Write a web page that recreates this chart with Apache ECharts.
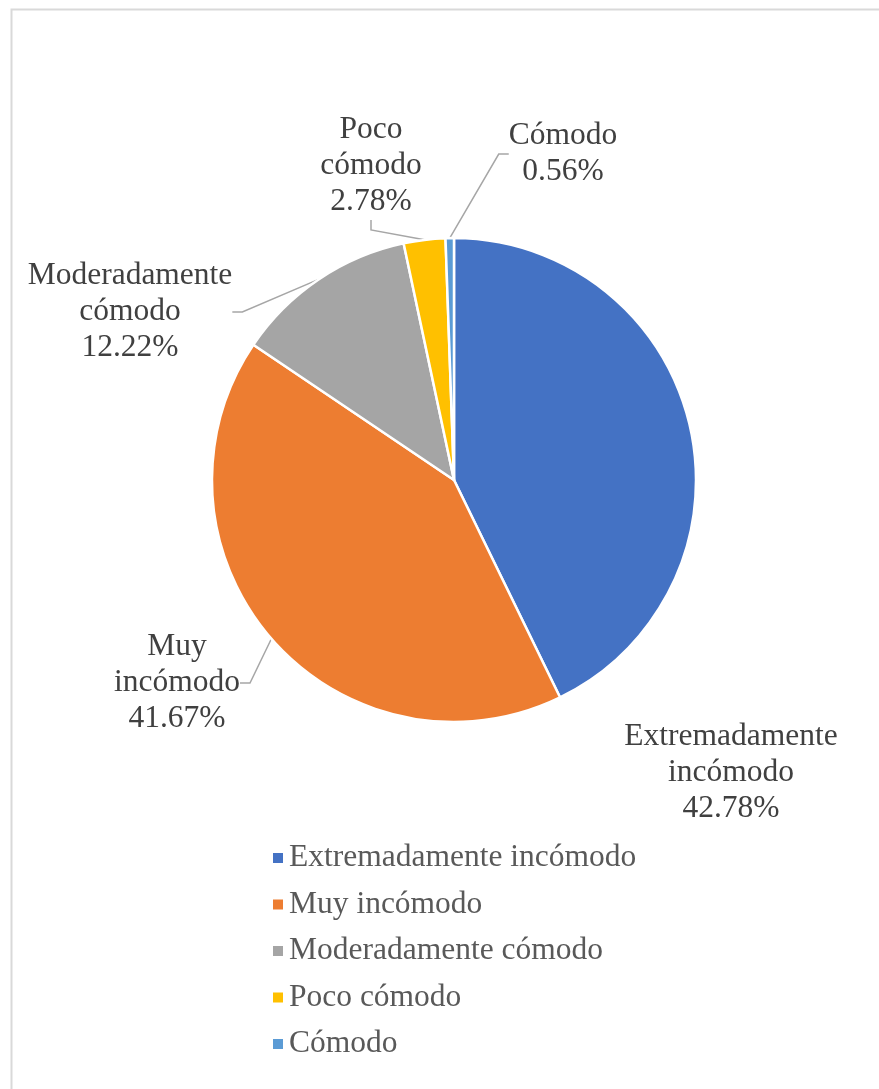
<!DOCTYPE html>
<html>
<head>
<meta charset="utf-8">
<script src="https://cdn.jsdelivr.net/npm/echarts@6/dist/echarts.min.js"></script>
<style>
html,body{margin:0;padding:0;background:#fff;}
#chart{width:879px;height:1089px;}
</style>
</head>
<body>
<div id="chart"></div>
<script>
const categories = ['Extremadamente incómodo', 'Muy incómodo', 'Moderadamente cómodo', 'Poco cómodo', 'Cómodo'];
const labelNames = ['Extremadamente\nincómodo', 'Muy\nincómodo', 'Moderadamente\ncómodo', 'Poco\ncómodo', 'Cómodo'];
const values = [42.78, 41.67, 12.22, 2.78, 0.56];
const colors = ['#4472C4', '#ED7D31', '#A5A5A5', '#FFC000', '#5B9BD5'];
// label placement (label centres)
const labelPos = [[731, 773], [177, 683], [130, 312], [371, 166], [563, 154]];

const FONT = '"Liberation Serif", "Times New Roman", serif';

const chart = echarts.init(document.getElementById('chart'));
chart.setOption({
  animation: false,
  backgroundColor: '#fff',
  color: colors,
  graphic: [{
    type: 'rect',
    left: 9, top: 7,
    shape: { width: 900, height: 1100 },
    style: { fill: 'none', stroke: '#d9d9d9', lineWidth: 2 },
    silent: true
  }],
  legend: {
    orient: 'vertical',
    left: 266,
    top: 835,
    icon: 'rect',
    itemWidth: 12,
    itemHeight: 12,
    itemGap: 10.5,
    data: categories,
    textStyle: { fontFamily: FONT, fontSize: 31.5, color: '#595959', lineHeight: 36, padding: [0, 0, 0, 0] }
  },
  series: [{
    type: 'pie',
    center: [454, 480],
    radius: [0, 242],
    startAngle: 90,
    clockwise: true,
    avoidLabelOverlap: false,
    itemStyle: { borderColor: '#fff', borderWidth: 2.5 },
    label: {
      show: true,
      position: 'outside',
      fontFamily: FONT,
      fontSize: 31.5,
      lineHeight: 36,
      color: '#404040',
      align: 'center',
      formatter: function (p) { return labelNames[p.dataIndex] + '\n' + values[p.dataIndex].toFixed(2) + '%'; }
    },
    labelLine: { show: true, length: 10, length2: 10, lineStyle: { color: '#A6A6A6', width: 1.5 } },
    labelLayout: function (p) {
      const pos = labelPos[p.dataIndex];
      return { x: pos[0], y: pos[1], align: 'center', verticalAlign: 'middle' };
    },
    data: categories.map(function (c, i) {
      const d = { name: c, value: values[i] };
      if (i === 0) d.labelLine = { show: false };
      return d;
    })
  }]
});
</script>
</body>
</html>
